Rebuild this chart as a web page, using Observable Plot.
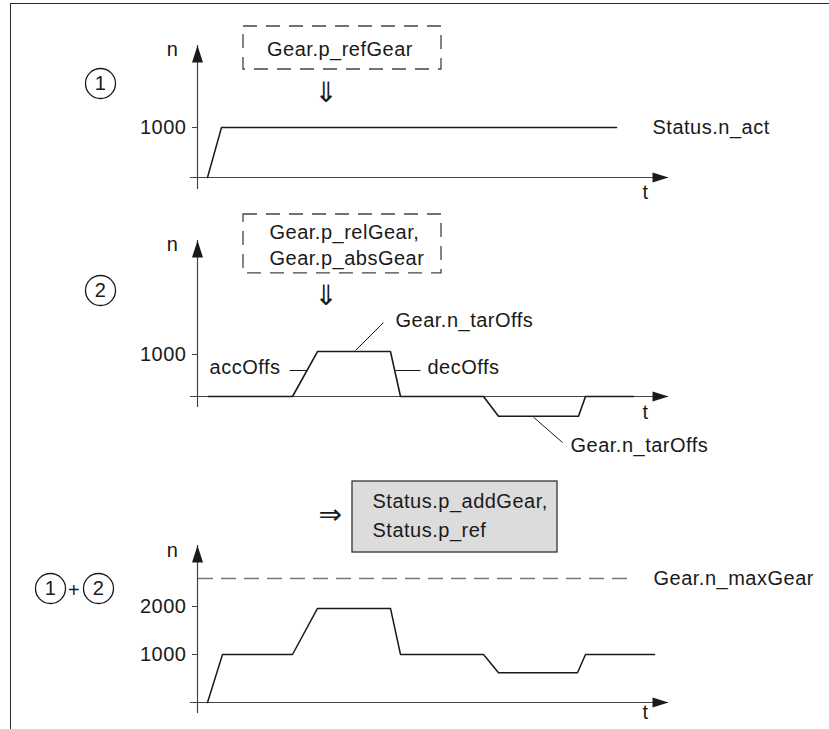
<!DOCTYPE html>
<html><head><meta charset="utf-8">
<script src="https://cdn.jsdelivr.net/npm/d3@7"></script>
<script src="https://cdn.jsdelivr.net/npm/@observablehq/plot@0.6"></script>
<style>
html,body{margin:0;padding:0;background:#fff;overflow:hidden;}
#wrap{position:relative;width:829px;height:729px;overflow:hidden;}
#frame{position:absolute;left:10px;top:3px;width:840px;height:760px;border-top:1.6px solid #2a2a2a;border-left:1.6px solid #2a2a2a;}
.panel{position:absolute;left:0;}
svg text{letter-spacing:0.5px;}
</style></head><body>
<div id="wrap"><div id="frame"></div></div>
<script>
// ---- data (time t in arbitrary units, speed n in 1/min) ----
const T_MAX = 47.1;

// Panel 1: Status.n_act
const t1 = [1.0, 2.4, 41.9];
const n1 = [0, 1000, 1000];
const ticks1 = [1000];

// Panel 2: Gear.n_tarOffs
const t2 = [1.1, 9.5, 12.0, 19.3, 20.3, 28.6, 30.1, 38.1, 38.8, 43.6];
const n2 = [0, 0, 1070, 1070, 0, 0, -470, -470, 0, 0];
const ticks2 = [1000];

// Panel 3: sum
const t3 = [1.0, 2.5, 9.5, 12.0, 19.3, 20.3, 28.6, 30.1, 38.0, 38.8, 45.7];
const n3 = [0, 1000, 1000, 1960, 1960, 1000, 1000, 620, 620, 1000, 1000];
const ticks3 = [1000, 2000];
const nMaxGear = 2583;

// annotation texts (anchored in data units)
const labels1 = [{t: 45.5, n: 1000, text: "Status.n_act"}];
const boxText1 = [{t: 14.25, n: 2560, text: "Gear.p_refGear"}];
const box1 = [{t1: 4.6, t2: 24.4, n1: 2160, n2: 3020}];
const arrow1 = [{t: 12.9, n: 1680, text: "⇓"}];
const circles1 = [{t: -9.7, n: 1880, label: "1"}];

const labelsStart2 = [
  {t: 19.8, n: 1810, text: "Gear.n_tarOffs"},
  {t: 23.0, n: 690, text: "decOffs"},
  {t: 37.3, n: -1167, text: "Gear.n_tarOffs"},
  {t: 7.2, n: 3912, text: "Gear.p_relGear,"},
  {t: 7.2, n: 3286, text: "Gear.p_absGear"}
];
const labelsEnd2 = [{t: 8.3, n: 690, text: "accOffs"}];
const leaders2 = [
  {ta: 9.2, na: 619, tb: 10.9, nb: 619},
  {ta: 15.8, na: 1095, tb: 18.6, nb: 1762},
  {ta: 19.8, na: 619, tb: 22.3, nb: 619},
  {ta: 33.6, na: -493, tb: 36.5, nb: -1095}
];
const box2 = [{t1: 4.6, t2: 24.4, n1: 2929, n2: 4333}];
const arrow2 = [{t: 12.9, n: 2381, text: "⇓"}];
const circles2 = [{t: -9.7, n: 2524, label: "2"}];

const labels3 = [
  {t: 45.6, n: 2583, text: "Gear.n_maxGear"},
  {t: 17.5, n: 4188, text: "Status.p_addGear,"},
  {t: 17.5, n: 3583, text: "Status.p_ref"}
];
const box3 = [{t1: 15.5, t2: 36.0, n1: 3125, n2: 4604}];
const arrow3 = [{t: 13.3, n: 3896, text: "⇒"}];
const circles3 = [{t: -14.7, n: 2375, label: "1"}, {t: -9.9, n: 2375, label: "2"}];
const plus3 = [{t: -12.35, n: 2340, text: "+"}];

// ---- drawing ----
const INK = "#1a1a1a";
const FONT = "'Liberation Sans', Arial, Helvetica, sans-serif";
const arrowUp = {draw(ctx) { ctx.moveTo(0, 0); ctx.lineTo(-5.5, 17); ctx.lineTo(5.5, 17); ctx.closePath(); }};
const arrowRight = {draw(ctx) { ctx.moveTo(0, 0); ctx.lineTo(-16, -5); ctx.lineTo(-16, 5); ctx.closePath(); }};
const pts = (ts, ns) => ts.map((t, i) => ({t, n: ns[i]}));

function panel(top, height, yDomain, marginTop, marginBottom, ticks, nLabel, tLabel, marks) {
  const svg = Plot.plot({
    width: 829, height,
    marginLeft: 197, marginRight: 829 - 668, marginTop, marginBottom,
    x: {domain: [0, T_MAX], axis: null},
    y: {domain: yDomain},
    style: {fontFamily: FONT, fontSize: "20px", background: "transparent", color: INK, overflow: "visible"},
    marks: [
      Plot.ruleX([0], {y1: yDomain[0], y2: yDomain[1], stroke: "#444", strokeWidth: 1.2}),
      Plot.ruleY([0], {x1: -0.7, x2: T_MAX, stroke: "#444", strokeWidth: 1.2}),
      Plot.dot([{t: 0, n: yDomain[1]}], {x: "t", y: "n", symbol: arrowUp, fill: INK, stroke: "none"}),
      Plot.dot([{t: T_MAX, n: 0}], {x: "t", y: "n", symbol: arrowRight, fill: INK, stroke: "none"}),
      Plot.axisY({ticks, tickSize: 5, tickPadding: 6, tickFormat: d => String(d), fontSize: 20, label: null, stroke: "#444", fill: INK}),
      Plot.text([{t: -2.5, n: nLabel, text: "n"}], {x: "t", y: "n", text: "text", fontSize: 20, fill: INK}),
      Plot.text([{t: 44.8, n: tLabel, text: "t"}], {x: "t", y: "n", text: "text", fontSize: 20, fill: INK}),
      ...marks
    ]
  });
  svg.classList.add("panel");
  svg.style.top = top + "px";
  document.getElementById("wrap").appendChild(svg);
}

function circleMarks(circles) {
  return [
    Plot.dot(circles, {x: "t", y: "n", r: 15, stroke: INK, strokeWidth: 1.3, fill: "white"}),
    Plot.text(circles, {x: "t", y: "n", text: "label", fontSize: 20, fill: INK})
  ];
}

const ARROW_STYLE = {x: "t", y: "n", text: "text", fontSize: 28, fill: INK, fontFamily: "'DejaVu Sans', sans-serif", fontWeight: "normal"};

// Panel 1
panel(0, 200, [-240, 2640], 45, 11, ticks1, 2560, -310, [
  Plot.rect(box1, {x1: "t1", x2: "t2", y1: "n1", y2: "n2", fill: "none", stroke: "#444", strokeWidth: 1.3, strokeDasharray: "14,9"}),
  Plot.text(boxText1, {x: "t", y: "n", text: "text", fontSize: 20, fill: INK}),
  Plot.text(arrow1, ARROW_STYLE),
  Plot.line(pts(t1, n1), {x: "t", y: "n", stroke: INK, strokeWidth: 1.5}),
  Plot.text(labels1, {x: "t", y: "n", text: "text", textAnchor: "start", fontSize: 20, fill: INK}),
  ...circleMarks(circles1)
]);

// Panel 2
panel(200, 260, [-262, 3714], 40, 53, ticks2, 3619, -393, [
  Plot.rect(box2, {x1: "t1", x2: "t2", y1: "n1", y2: "n2", fill: "none", stroke: "#444", strokeWidth: 1.3, strokeDasharray: "14,9"}),
  Plot.text(arrow2, ARROW_STYLE),
  Plot.line(pts(t2, n2), {x: "t", y: "n", stroke: INK, strokeWidth: 1.6}),
  Plot.link(leaders2, {x1: "ta", y1: "na", x2: "tb", y2: "nb", stroke: INK, strokeWidth: 1}),
  Plot.text(labelsStart2, {x: "t", y: "n", text: "text", textAnchor: "start", fontSize: 20, fill: INK}),
  Plot.text(labelsEnd2, {x: "t", y: "n", text: "text", textAnchor: "end", fontSize: 20, fill: INK}),
  ...circleMarks(circles2)
]);

// Panel 3
panel(460, 269, [-229, 3271], 85, 16, ticks3, 3167, -219, [
  Plot.rect(box3, {x1: "t1", x2: "t2", y1: "n1", y2: "n2", fill: "#dcdcdc", stroke: "#333", strokeWidth: 1.3}),
  Plot.text(arrow3, ARROW_STYLE),
  Plot.ruleY([nMaxGear], {x1: 0.1, x2: 43.3, stroke: "#777", strokeWidth: 1.5, strokeDasharray: "15,8"}),
  Plot.line(pts(t3, n3), {x: "t", y: "n", stroke: INK, strokeWidth: 1.5}),
  Plot.text(labels3, {x: "t", y: "n", text: "text", textAnchor: "start", fontSize: 20, fill: INK}),
  Plot.text(plus3, {x: "t", y: "n", text: "text", fontSize: 20, fill: INK}),
  ...circleMarks(circles3)
]);
</script>
</body></html>
